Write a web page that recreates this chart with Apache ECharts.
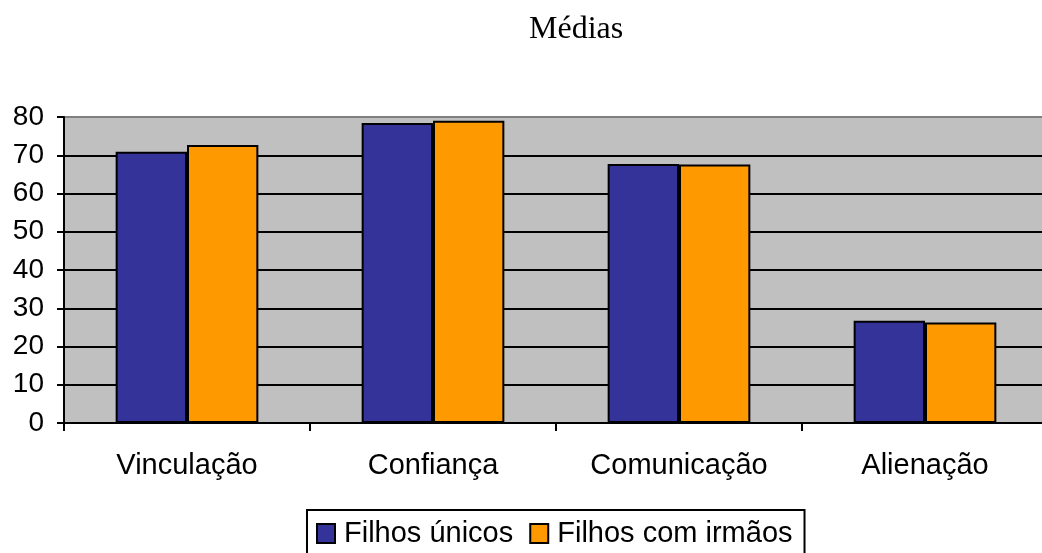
<!DOCTYPE html>
<html>
<head>
<meta charset="utf-8">
<script src="https://cdn.jsdelivr.net/npm/echarts@6/dist/echarts.min.js"></script>
<style>
html,body{margin:0;padding:0;background:#fff;overflow:hidden;width:1042px;height:553px;}
#chart{width:1062px;height:553px;}
</style>
</head>
<body>
<div id="chart"></div>
<script>
const titleText = 'Médias';
const categories = ['Vinculação', 'Confiança', 'Comunicação', 'Alienação'];
const seriesNames = ['Filhos únicos', 'Filhos com irmãos'];
const filhosUnicos = [70.9, 78.4, 67.7, 26.7];
const filhosComIrmaos = [72.7, 79.0, 67.6, 26.3];
const yTicks = [0, 10, 20, 30, 40, 50, 60, 70, 80];

const chart = echarts.init(document.getElementById('chart'));
const sans = '"Liberation Sans", Arial, sans-serif';
const gridColors = yTicks.map((v, i) => i === yTicks.length - 1 ? '#808080' : '#000000');
chart.setOption({
  animation: false,
  backgroundColor: '#ffffff',
  title: {
    text: titleText,
    left: 524, top: 9,
    textStyle: {fontFamily: '"Liberation Serif", "Times New Roman", serif', fontSize: 32, fontWeight: 'normal', color: '#000'}
  },
  legend: {
    data: seriesNames,
    left: 307, top: 510,
    orient: 'horizontal',
    itemWidth: 18, itemHeight: 19,
    itemGap: 16,
    padding: [9, 12, 9, 9],
    borderColor: '#000', borderWidth: 2,
    icon: 'rect',
    itemStyle: {borderColor: '#000', borderWidth: 2},
    textStyle: {fontFamily: sans, fontSize: 29, color: '#000', padding: [0, 0, 0, 4]}
  },
  grid: {
    left: 64, right: 14, top: 117, bottom: 130,
    show: true, backgroundColor: '#c0c0c0', borderWidth: 0
  },
  xAxis: {
    type: 'category',
    data: categories,
    axisLine: {lineStyle: {color: '#000', width: 2}},
    axisTick: {show: true, length: 8, lineStyle: {color: '#000', width: 2}},
    axisLabel: {fontFamily: sans, fontSize: 29, color: '#000', margin: 28}
  },
  yAxis: {
    type: 'value',
    min: 0, max: 80, interval: 10,
    axisLine: {show: true, lineStyle: {color: '#000', width: 2}},
    axisTick: {show: true, length: 7, lineStyle: {color: '#000', width: 2}},
    axisLabel: {fontFamily: sans, fontSize: 28, color: '#000', margin: 20},
    splitLine: {show: true, lineStyle: {color: gridColors, width: 2}}
  },
  series: [
    {
      name: seriesNames[0], type: 'bar', data: filhosUnicos,
      barGap: '0%', barCategoryGap: '42%',
      itemStyle: {color: '#333399', borderColor: '#000', borderWidth: 2}
    },
    {
      name: seriesNames[1], type: 'bar', data: filhosComIrmaos,
      itemStyle: {color: '#FF9900', borderColor: '#000', borderWidth: 2}
    }
  ]
});
</script>
</body>
</html>
